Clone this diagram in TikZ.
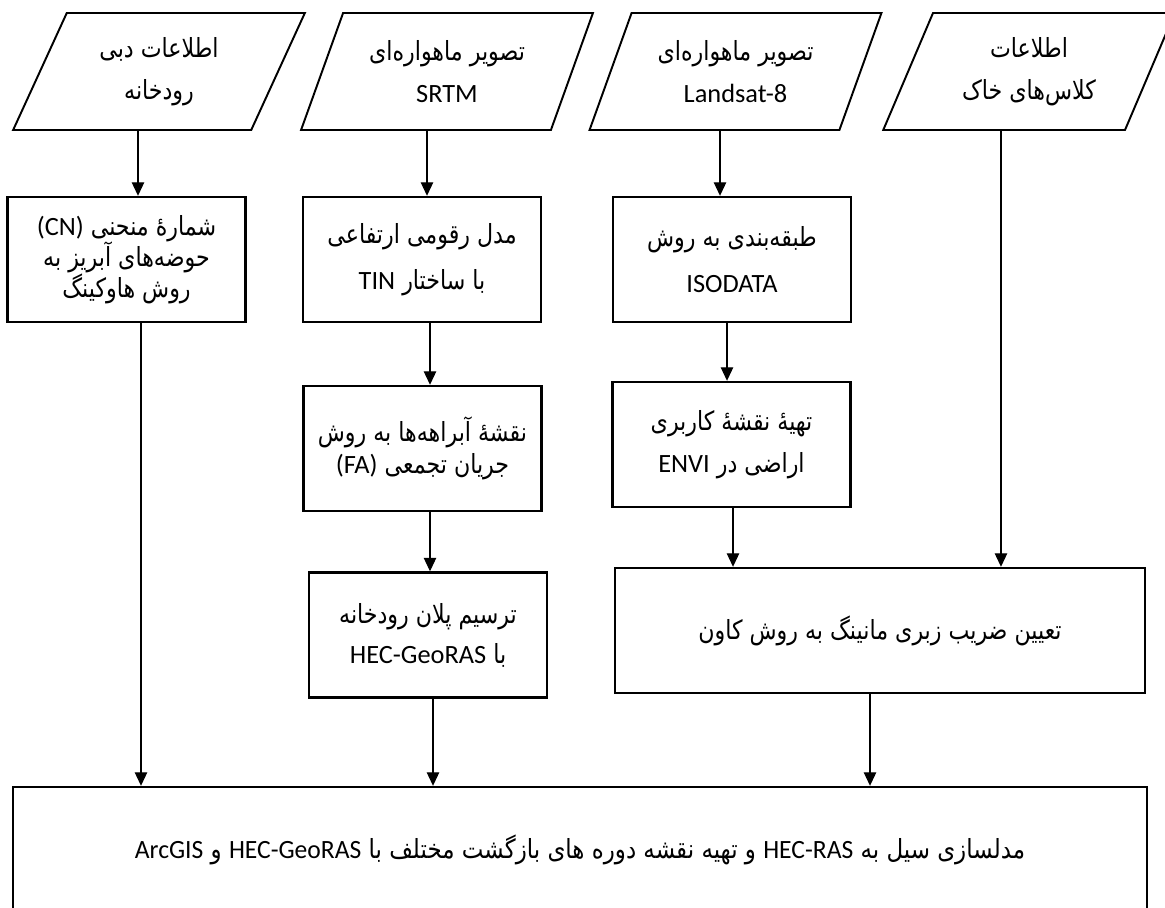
\documentclass[tikz,border=0pt]{standalone}
\usepackage{fontspec}
\setmainfont{Carlito}
\newfontfamily\farsi[Script=Arabic,Scale=1.0,FakeStretch=0.84]{DejaVu Sans}
\newfontfamily\farsicond[Script=Arabic,Scale=1.0,FakeStretch=0.87]{DejaVu Sans}
\newfontfamily\latcond[FakeStretch=0.97]{Carlito}
\TeXXeTstate=1
\usetikzlibrary{arrows.meta,shapes.geometric}

\newcommand{\fatxt}[1]{{\farsi\beginR #1\endR}}
\newcommand{\entxt}[1]{\beginL{\normalfont #1}\endL}
\newcommand{\facond}[1]{{\farsicond\beginR #1\endR}}
\newcommand{\encond}[1]{\beginL{\latcond #1}\endL}
\newcommand{\tightlines}{\fontsize{15}{17.5}\selectfont\lineskiplimit=-20pt\relax}

\begin{document}
\begin{tikzpicture}[
      x=0.02cm, y=-0.02cm,
      data/.style={trapezium,trapezium left angle=63.2,trapezium right angle=116.8,trapezium stretches=true,draw,line width=1.1pt,minimum width=5.84cm,minimum height=2.34cm,align=center,inner sep=0pt},
      proc/.style={rectangle,draw,line width=1.4pt,minimum width=4.76cm,minimum height=2.5cm,align=center},
      flow/.style={->,line width=0.6pt},
      >={Triangle[length=0.27cm,width=0.25cm]},
      font=\fontsize{15}{24}\selectfont
    ]
    \useasboundingbox (0,0) rectangle (1165,908);

    % inputs
    \node[data] (dis) at (159,71.5) {\fatxt{اطلاعات دبی}\\\fatxt{رودخانه}};
    \node[data] (srtm) at (447,71.5) {\fatxt{تصویر ماهواره‌ای}\\SRTM};
    \node[data] (land) at (735.5,71.5) {\fatxt{تصویر ماهواره‌ای}\\Landsat-8};
    \node[data] (soil) at (1029,71.5) {\fatxt{اطلاعات}\\\fatxt{کلاس‌های خاک}};

    % processing
    \node[proc,font=\tightlines] (cn) at (126.5,259.5) {\fatxt{شمارهٔ منحنی \entxt{(CN)}}\\\fatxt{حوضه‌های آبریز به}\\\fatxt{روش هاوکینگ}};
    \node[proc,font=\fontsize{15}{26}\selectfont] (dem) at (422,259.5) {\fatxt{مدل رقومی ارتفاعی}\\\fatxt{با ساختار \entxt{TIN}}};
    \node[proc,font=\fontsize{15}{26}\selectfont] (iso) at (732,259.5) {\fatxt{طبقه‌بندی به روش}\\ISODATA};
    \node[proc,font=\fontsize{15}{18}\selectfont] (fa) at (422.5,448.5) {\fatxt{نقشهٔ آبراهه‌ها به روش}\\\fatxt{جریان تجمعی \entxt{(FA)}}};
    \node[proc] (lu) at (731.5,444.5) {\fatxt{تهیهٔ نقشهٔ کاربری}\\\fatxt{اراضی در \entxt{ENVI}}};
    \node[proc,font=\fontsize{15}{22.7}\selectfont] (plan) at (428,635) {\fatxt{ترسیم پلان رودخانه}\\\fatxt{با \entxt{HEC-GeoRAS}}};
    \node[proc,minimum width=10.6cm] (man) at (880,630.5) {\fatxt{تعیین ضریب زبری مانینگ به روش کاون}};

    % output
    \node[proc,minimum width=22.68cm,minimum height=2.52cm] (flood) at (580,850) {\facond{مدلسازی سیل به \encond{HEC-RAS} و تهیه نقشه دوره های بازگشت مختلف با \encond{HEC-GeoRAS} و \encond{ArcGIS}}};

    \draw[flow] ([xshift=0.23cm]cn.north |- dis.south) -- ([xshift=0.23cm]cn.north);
    \draw[flow] ([xshift=0.1cm]dem.north |- srtm.south) -- ([xshift=0.1cm]dem.north);
    \draw[flow] ([xshift=-0.24cm]iso.north |- land.south) -- ([xshift=-0.24cm]iso.north);
    \draw[flow] ([xshift=2.42cm]man.north |- soil.south) -- ([xshift=2.42cm]man.north);
    \draw[flow] ([xshift=0.15cm]fa.north |- dem.south) -- ([xshift=0.15cm]fa.north);
    \draw[flow] ([xshift=0.04cm]plan.north |- fa.south) -- ([xshift=0.04cm]plan.north);
    \draw[flow] ([xshift=-0.09cm]lu.north |- iso.south) -- ([xshift=-0.09cm]lu.north);
    \draw[flow] ([xshift=0.03cm]lu.south) -- ([xshift=0.03cm]lu.south |- man.north);
    \draw[flow] ([xshift=0.29cm]cn.south) -- ([xshift=0.29cm]cn.south |- flood.north);
    \draw[flow] ([xshift=0.1cm]plan.south) -- ([xshift=0.1cm]plan.south |- flood.north);
    \draw[flow] ([xshift=-0.2cm]man.south) -- ([xshift=-0.2cm]man.south |- flood.north);
  \end{tikzpicture}
\end{document}
